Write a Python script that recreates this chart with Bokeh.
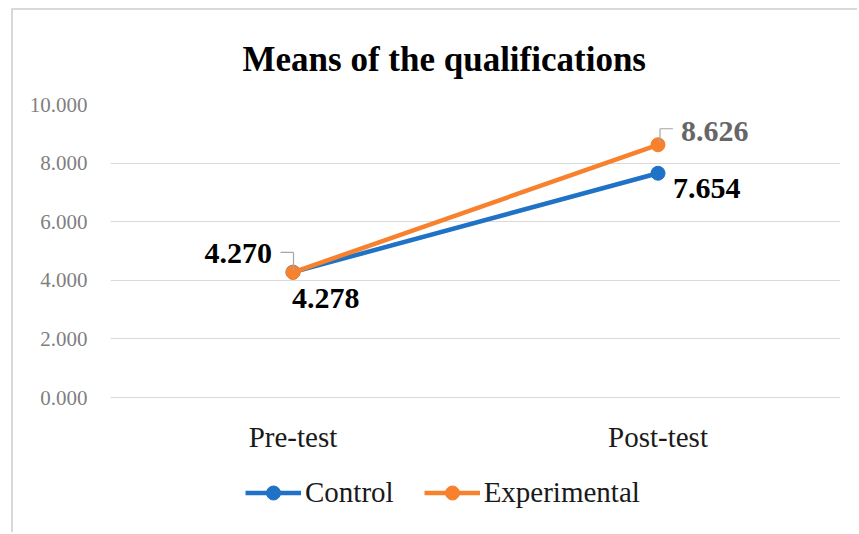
from bokeh.plotting import figure
from bokeh.models import (ColumnDataSource, FactorRange, Range1d, FixedTicker,
                          NumeralTickFormatter, Legend, LegendItem)
from bokeh.transform import dodge
from bokeh.core.properties import value
from bokeh.embed import file_html
from bokeh.resources import INLINE

categories = ["Pre-test", "Post-test"]
control = [4.278, 7.654]
experimental = [4.270, 8.626]
y_ticks = [0, 2, 4, 6, 8, 10]
title_text = "Means of the qualifications"

BLUE = "#1f72c6"
ORANGE = "#f7812c"
FONT = "Liberation Serif"

# canvas sits at (13, 10) after css margin + border
OX, OY = 13, 10
W, H = 846, 524
ML, MT, MB = 110 - OX, 104 - OY, 6
MR = (OX + W) - 840
frame_w = W - ML - MR
frame_h = H - MT - MB
PX_PER_UNIT = 293 / 10.0
y_min = 10 - frame_h / PX_PER_UNIT

p = figure(x_range=FactorRange(*categories, range_padding=0),
           y_range=Range1d(y_min, 10), width=W, height=H,
           output_backend="svg", toolbar_location=None,
           min_border_left=ML, min_border_right=MR,
           min_border_top=MT, min_border_bottom=MB,
           title=title_text)
p.styles = {"margin-left": "11px", "margin-top": "8px",
            "border-left": "2px solid #d9d9d9", "border-top": "2px solid #d9d9d9"}
p.outline_line_color = None
p.background_fill_color = "white"
p.border_fill_color = "white"

p.title.align = "left"
p.title.offset = 132
p.title.text_font = FONT
p.title.text_font_size = "35px"
p.title.text_font_style = "bold"
p.title.text_color = "black"
p.title.standoff = 51

p.xgrid.grid_line_color = None
p.ygrid.grid_line_color = "#d9d9d9"
p.ygrid.grid_line_width = 1

p.yaxis.ticker = FixedTicker(ticks=y_ticks)
p.yaxis.formatter = NumeralTickFormatter(format="0.000")
p.yaxis.axis_line_color = None
p.yaxis.major_tick_line_color = None
p.yaxis.major_tick_out = 0
p.yaxis.major_tick_in = 0
p.yaxis.minor_tick_line_color = None
p.yaxis.major_label_text_font = FONT
p.yaxis.major_label_text_font_size = "21px"
p.yaxis.major_label_text_color = "#7f7f7f"
p.yaxis.major_label_standoff = 23

p.xaxis.visible = False

src = ColumnDataSource(dict(cat=categories, control=control, exp=experimental,
                            zero=[0, 0]))

# category labels under the zero line
p.text("cat", "zero", text="cat", y_offset=39, text_align="center",
       text_baseline="middle", text_color="#1a1a1a", text_font=value(FONT),
       text_font_size="29px", source=src)

lc = p.line("cat", "control", source=src, line_color=BLUE, line_width=4.5)
sc = p.scatter("cat", "control", source=src, size=14, fill_color=BLUE, line_color=BLUE)
le = p.line("cat", "exp", source=src, line_color=ORANGE, line_width=4.5)
se = p.scatter("cat", "exp", source=src, size=14, fill_color=ORANGE, line_color=ORANGE)

# leader lines (pixel offsets converted to data units)
ux = 1.0 / (frame_w / len(categories))
uy = 1.0 / PX_PER_UNIT
lead = dict(line_color="#a6a6a6", line_width=1.2)
pre = ColumnDataSource(dict(cat=[categories[0]],
                            ya=[experimental[0] + 20 * uy],
                            yb=[experimental[0] + 2 * uy]))
post = ColumnDataSource(dict(cat=[categories[1]],
                             ya=[experimental[1] + 16 * uy],
                             yb=[experimental[1] + 2 * uy]))
p.segment(x0=dodge("cat", -12.5 * ux, range=p.x_range), y0="ya",
          x1=dodge("cat", 0.5 * ux, range=p.x_range), y1="ya", source=pre, **lead)
p.segment(x0=dodge("cat", 0.5 * ux, range=p.x_range), y0="ya",
          x1=dodge("cat", 0.5 * ux, range=p.x_range), y1="yb", source=pre, **lead)
p.segment(x0=dodge("cat", 2 * ux, range=p.x_range), y0="ya",
          x1=dodge("cat", 15 * ux, range=p.x_range), y1="ya", source=post, **lead)
p.segment(x0=dodge("cat", 2 * ux, range=p.x_range), y0="ya",
          x1=dodge("cat", 2 * ux, range=p.x_range), y1="yb", source=post, **lead)

# data labels
lab = ColumnDataSource(dict(
    cat=[categories[0], categories[0], categories[1], categories[1]],
    v=[experimental[0], control[0], experimental[1], control[1]],
    txt=[f"{experimental[0]:.3f}", f"{control[0]:.3f}",
         f"{experimental[1]:.3f}", f"{control[1]:.3f}"],
    xo=[-21, -1, 23, 15], yo=[-19, 26, -13, 15],
    al=["right", "left", "left", "left"],
    col=["black", "black", "#666666", "black"],
))
p.text("cat", "v", text="txt", x_offset="xo", y_offset="yo", text_align="al",
       text_baseline="middle", text_color="col", text_font=value(FONT),
       text_font_size="30px", text_font_style="bold", source=lab)

legend = Legend(items=[LegendItem(label="Control", renderers=[lc, sc]),
                       LegendItem(label="Experimental", renderers=[le, se])],
                orientation="horizontal")
legend.location = (135, (OY + MT + frame_h) - 510)
legend.glyph_width = 56
legend.glyph_height = 35
legend.label_text_font = FONT
legend.label_text_font_size = "29px"
legend.label_text_color = "#1a1a1a"
legend.label_standoff = 4
legend.spacing = 30
legend.padding = 0
legend.margin = 0
legend.border_line_color = None
legend.background_fill_alpha = 0
p.add_layout(legend, "center")

open("out.html", "w").write(file_html(p, INLINE))
